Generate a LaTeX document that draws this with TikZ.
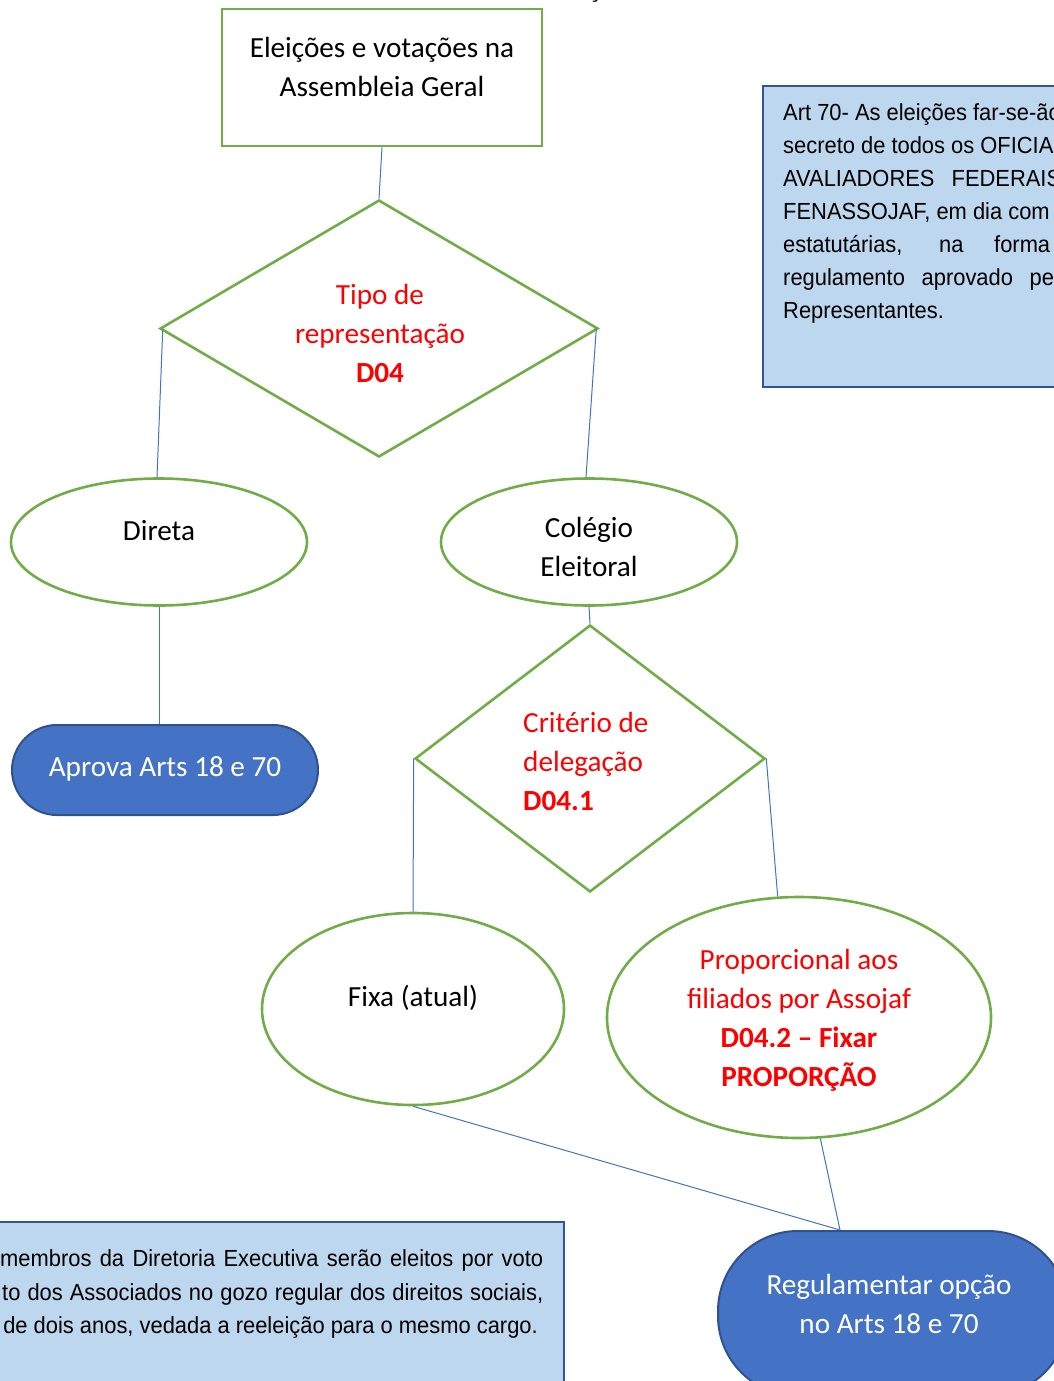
\documentclass[tikz,border=0pt]{standalone}
\usepackage{fontspec}
\setmainfont{Carlito}
\newfontfamily\narrowfont{Liberation Sans}[FakeStretch=0.94]
\usetikzlibrary{shapes.geometric,calc}
\definecolor{gr}{HTML}{70AD47}
\definecolor{bl}{HTML}{4472C4}
\definecolor{bldark}{HTML}{2F528F}
\definecolor{boxfill}{HTML}{BDD7EE}
\definecolor{boxline}{HTML}{2F5597}
\begin{document}
\begin{tikzpicture}[x=1pt,y=-1pt,
  shapeline/.style={draw=gr, line width=2.6pt, inner sep=0},
  conn/.style={draw=bl, line width=1pt},
  pill/.style={draw=bldark, line width=2pt, fill=bl, rounded corners=#1, inner sep=0},
  txt/.style={font=\fontsize{29.2}{39}\selectfont, align=center, inner sep=0},
  rtxt/.style={txt, text=red},
  wtxt/.style={txt, text=white},
  boxtxt/.style={font=\narrowfont\fontsize{23.3}{33}\selectfont, inner sep=0},
  notebox/.style={draw=boxline, line width=2pt, fill=boxfill, inner sep=0}
]
\useasboundingbox (0,0) rectangle (1054,1381);
\clip (0,0) rectangle (1054,1381);

% fragment of cut-off title
\node[txt, anchor=base] (titlefrag) at (594,-2) {ç};

% note boxes
\node[notebox, anchor=north west, minimum width=320, minimum height=301] (art70) at (762,85) {};
\node[boxtxt, anchor=base west] (r1) at (783,120.5) {Art 70- As eleições far-se-ão};
\node[boxtxt, anchor=base west] (r2) at (783,153.5) {secreto de todos os OFICIAIS};
\node[boxtxt, anchor=base west] (r3) at (783,186.5) {\makebox[278pt][s]{AVALIADORES FEDERAIS}};
\node[boxtxt, anchor=base west] (r4) at (783,219.5) {FENASSOJAF, em dia com};
\node[boxtxt, anchor=base west] (r5) at (783,252.5) {\makebox[267pt][s]{estatutárias, na forma}};
\node[boxtxt, anchor=base west] (r6) at (783,285.5) {\makebox[288pt][s]{regulamento aprovado pelo}};
\node[boxtxt, anchor=base west] (r7) at (783,318.5) {Representantes.};

\node[notebox, anchor=north east, minimum width=590, minimum height=200] (art18) at (565,1221) {};
\node[boxtxt, anchor=base west] (b1) at (0,1266.5) {\makebox[543pt][s]{membros da Diretoria Executiva serão eleitos por voto}};
\node[boxtxt, anchor=base west] (b2) at (2,1300) {\makebox[541pt][s]{to dos Associados no gozo regular dos direitos sociais,}};
\node[boxtxt, anchor=base east] (b3) at (538,1333.5) {de dois anos, vedada a reeleição para o mesmo cargo.};

% shapes
\node[shapeline, draw, rectangle, minimum width=320, minimum height=137] (top) at (382,77.5) {};
\node[txt] (toptxt) at (382,66.5) {Eleições e votações na\\Assembleia Geral};

\node[shapeline, diamond, minimum width=438, minimum height=257] (d1) at (379,328.5) {};
\node[rtxt] (d1txt) at (380,333) {Tipo de\\representação\\\textbf{D04}};

\node[shapeline, ellipse, minimum width=296, minimum height=127] (direta) at (159,542) {};
\node[txt] (diretatxt) at (159,531) {Direta};

\node[shapeline, ellipse, minimum width=296, minimum height=127] (colegio) at (589,542) {};
\node[txt] (colegiotxt) at (589,546.5) {Colégio\\Eleitoral};

\node[pill=45, minimum width=306, minimum height=90] (aprova) at (165,770) {};
\node[wtxt] (aprovatxt) at (165,769) {Aprova Arts 18 e 70};

\node[shapeline, diamond, minimum width=350, minimum height=267] (d2) at (590,758.5) {};
\node[rtxt, align=left, anchor=west] (d2txt) at (523,761.5) {Critério de\\delegação\\\textbf{D04.1}};

\node[shapeline, ellipse, minimum width=302, minimum height=192] (fixa) at (413,1009) {};
\node[txt] (fixatxt) at (413,998) {Fixa (atual)};

\node[shapeline, ellipse, minimum width=384, minimum height=241] (prop) at (799,1017.5) {};
\node[rtxt] (proptxt) at (799,1020) {Proporcional aos\\filiados por Assojaf\\\textbf{D04.2 – Fixar}\\\textbf{PROPORÇÃO}};

\node[pill=80, minimum width=350, minimum height=165] (regul) at (893,1313.5) {};
\node[wtxt] (regultxt) at (889,1303.5) {Regulamentar opção\\no Arts 18 e 70};

% connectors
\draw[conn] (top.south) -- (d1.north);
\draw[conn] ($(d1.west)+(4,2)$) -- ($(direta.north)+(-2,0)$);
\draw[conn] ($(d1.east)+(-3,0)$) -- ($(colegio.north)+(-3,0)$);
\draw[conn] (direta.south) -- (aprova.north -| direta.south);
\draw[conn] (colegio.south) -- (d2.north);
\draw[conn] (d2.west) -- (fixa.north);
\draw[conn] (d2.east) -- (prop.100);
\coordinate (regin) at ($(regul.north)+(-53,0)$);
\draw[conn] (fixa.south) -- (regin);
\draw[conn] (prop.-80) -- (regin);
\end{tikzpicture}
\end{document}
